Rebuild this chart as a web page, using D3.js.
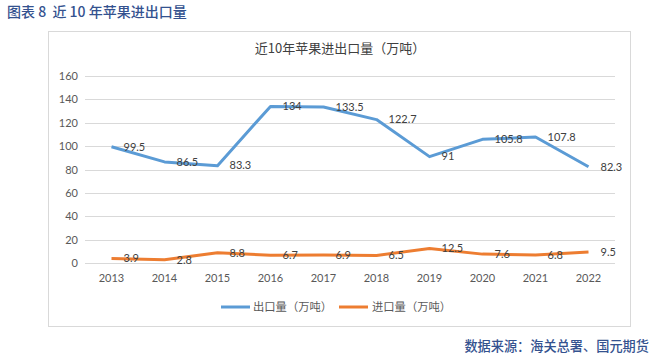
<!DOCTYPE html>
<html><head><meta charset="utf-8">
<script src="https://cdn.jsdelivr.net/npm/d3@7"></script>
<style>body{margin:0;background:#fff;}svg{display:block;}text{white-space:pre;}</style>
</head><body>
<script>
const years = ["2013","2014","2015","2016","2017","2018","2019","2020","2021","2022"];
const exportVals = [99.5,86.5,83.3,134,133.5,122.7,91,105.8,107.8,82.3];
const importVals = [3.9,2.8,8.8,6.7,6.9,6.5,12.5,7.6,6.8,9.5];
const yTicks = [0,20,40,60,80,100,120,140,160];
const seriesNames = ["出口量（万吨）","进口量（万吨）"];
const colors = ["#5b9bd5","#ed7d31"];

const W=661,H=358;
const svg=d3.select("body").append("svg").attr("width",W).attr("height",H);
const latin="Lato, 'Open Sans', 'Liberation Sans', sans-serif";
const cjk="'Noto Sans CJK SC', sans-serif";

svg.append("text").attr("x",7).attr("y",17).attr("fill","#34528f").attr("font-family",cjk)
  .attr("font-size",14).attr("font-weight",500).text("图表 8  近 10 年苹果进出口量");

svg.append("rect").attr("x",48.5).attr("y",31.5).attr("width",582).attr("height",295)
  .attr("fill","#fff").attr("stroke","#d9d9d9");

svg.append("text").attr("x",340).attr("y",53).attr("text-anchor","middle").attr("fill","#404040")
  .attr("font-family",cjk).attr("font-size",13).text("近10年苹果进出口量（万吨）");

const x=d3.scaleBand().domain(years).range([85,615]);
const y=d3.scaleLinear().domain([0,160]).range([263,76]);

const grid=svg.append("g");
grid.selectAll("line").data(yTicks).join("line")
  .attr("x1",85).attr("x2",615).attr("y1",d=>Math.round(y(d))+0.5).attr("y2",d=>Math.round(y(d))+0.5)
  .attr("stroke","#d9d9d9").attr("stroke-width",1);

const yAxis=svg.append("g").attr("transform","translate(85,0)")
  .call(d3.axisLeft(y).tickValues(yTicks).tickSize(0).tickPadding(7));
yAxis.select(".domain").remove();
yAxis.selectAll("text").attr("font-family",latin).attr("font-size",11).attr("fill","#595959");

const xAxis=svg.append("g").attr("transform","translate(0,263)")
  .call(d3.axisBottom(x).tickSize(0).tickPadding(11));
xAxis.select(".domain").remove();
xAxis.selectAll("text").attr("font-family",latin).attr("font-size",11).attr("fill","#595959");

const cx=d=>x(d)+x.bandwidth()/2;
const line=d3.line().x((d,i)=>cx(years[i])).y(d=>y(d));
[exportVals,importVals].forEach((vals,k)=>{
  svg.append("path").datum(vals).attr("d",line).attr("fill","none")
    .attr("stroke",colors[k]).attr("stroke-width",3).attr("stroke-linejoin","round");
  svg.append("g").selectAll("text").data(vals).join("text")
    .attr("x",(d,i)=>cx(years[i])+12).attr("y",d=>y(d)).attr("dy","0.35em")
    .attr("font-family",latin).attr("font-size",11).attr("fill","#404040")
    .text(d=>d);
});

// legend
const leg=svg.append("g");
[[221,253],[339,372]].forEach((p,k)=>{
  leg.append("line").attr("x1",p[0]).attr("x2",p[0]+29).attr("y1",307).attr("y2",307)
    .attr("stroke",colors[k]).attr("stroke-width",3);
  leg.append("text").attr("x",p[1]).attr("y",307).attr("dy","0.35em").attr("fill","#595959")
    .attr("font-family",cjk).attr("font-size",11.3).text(seriesNames[k]);
});

svg.append("text").attr("x",649).attr("y",351).attr("text-anchor","end").attr("fill","#34528f")
  .attr("font-family",cjk).attr("font-size",13.2).attr("font-weight",500).text("数据来源：海关总署、国元期货");
</script>
</body></html>
